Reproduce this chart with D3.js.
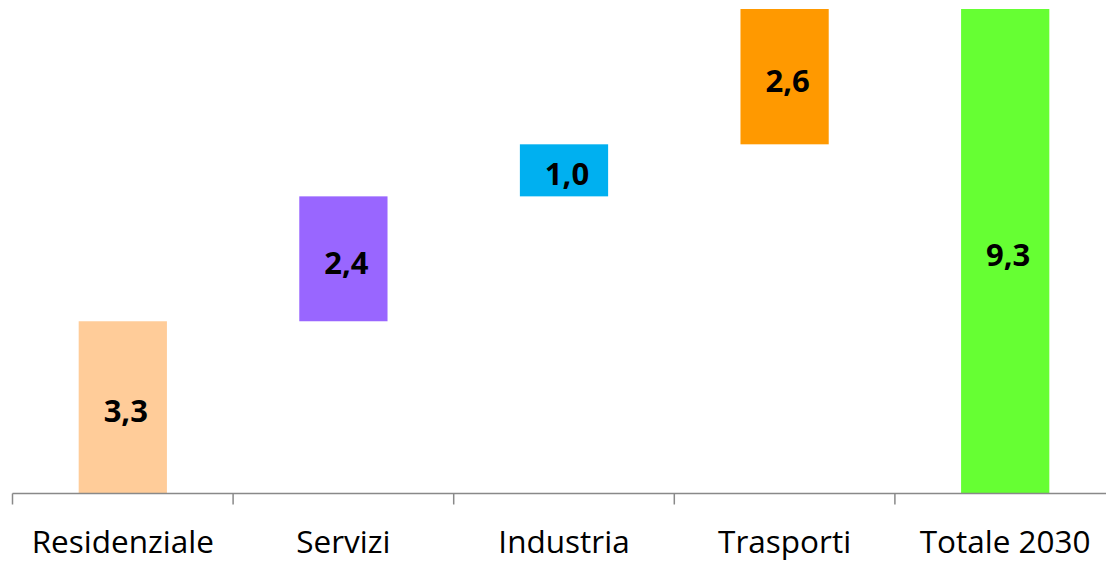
<!DOCTYPE html>
<html>
<head>
<meta charset="utf-8">
<script src="https://cdn.jsdelivr.net/npm/d3@7"></script>
<style>
  html, body { margin: 0; padding: 0; background: #fff; }
  svg { display: block; }
</style>
</head>
<body>
<svg id="chart" width="1106" height="561"></svg>
<script>
// categorie e valori (Mtep)
var categories = ["Residenziale", "Servizi", "Industria", "Trasporti", "Totale 2030"];
var steps = [3.3, 2.4, 1.0, 2.6];
var total = 9.3;
var colors = ["#FFCC99", "#9966FF", "#00B0F0", "#FF9900", "#66FF33"];

var svg = d3.select("#chart");
var width = 1106, height = 561;

// waterfall: ogni passo parte dalla somma dei precedenti
var bars = [];
var acc = 0;
steps.forEach(function (v, i) {
    bars.push({ name: categories[i], y0: acc, y1: acc + v, value: v, color: colors[i] });
    acc += v;
});
bars.push({ name: categories[4], y0: 0, y1: total, value: total, color: colors[4] });

var x = d3.scaleBand()
    .domain(categories)
    .range([12.5, 1115.5])
    .paddingInner(0.6)
    .paddingOuter(0.3);

var y = d3.scaleLinear()
    .domain([0, total])
    .range([493, 9]);

var it = d3.formatLocale({ decimal: ",", thousands: ".", grouping: [3], currency: ["€", ""] });
var fmt = it.format(".1f");

svg.selectAll("rect.bar")
    .data(bars)
    .enter().append("rect")
    .attr("class", "bar")
    .attr("x", function (d) { return x(d.name); })
    .attr("width", x.bandwidth())
    .attr("y", function (d) { return y(d.y1); })
    .attr("height", function (d) { return y(d.y0) - y(d.y1); })
    .attr("fill", function (d) { return d.color; });

svg.selectAll("text.val")
    .data(bars)
    .enter().append("text")
    .attr("class", "val")
    .attr("x", function (d) { return x(d.name) + x.bandwidth() / 2 + 3; })
    .attr("y", function (d) { return (y(d.y0) + y(d.y1)) / 2 + 3; })
    .attr("text-anchor", "middle")
    .attr("dominant-baseline", "central")
    .attr("font-family", "'Open Sans', sans-serif")
    .attr("font-weight", "bold")
    .attr("font-size", 31)
    .attr("fill", "#000")
    .text(function (d) { return fmt(d.value); });

// asse x con tacche tra le categorie
var axisY = y(0) + 0.5;
var step = x.step();
var start = x.range()[0];
var g = svg.append("g");
g.append("line")
    .attr("x1", start).attr("x2", width)
    .attr("y1", axisY).attr("y2", axisY)
    .attr("stroke", "#898989").attr("stroke-width", 1.5);

g.selectAll("line.tick")
    .data(d3.range(categories.length))
    .enter().append("line")
    .attr("class", "tick")
    .attr("x1", function (i) { return start + i * step; })
    .attr("x2", function (i) { return start + i * step; })
    .attr("y1", axisY).attr("y2", axisY + 11)
    .attr("stroke", "#898989").attr("stroke-width", 1.5);

g.selectAll("text.lab")
    .data(categories)
    .enter().append("text")
    .attr("class", "lab")
    .attr("x", function (d) { return x(d) + x.bandwidth() / 2; })
    .attr("y", 553)
    .attr("text-anchor", "middle")
    .attr("font-family", "'Open Sans', sans-serif")
    .attr("font-size", 31.5)
    .attr("fill", "#000")
    .text(function (d) { return d; });
</script>
</body>
</html>
